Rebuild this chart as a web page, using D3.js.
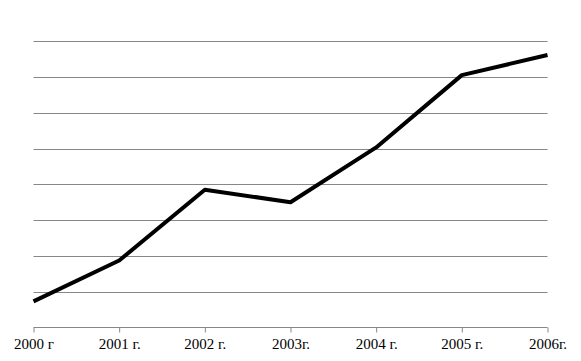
<!DOCTYPE html>
<html><head><meta charset="utf-8">
<script src="https://cdn.jsdelivr.net/npm/d3@7"></script>
<style>body{margin:0;background:#fff}</style>
</head><body>
<svg id="c" width="581" height="361"></svg>
<script>
const categories = ["2000 г", "2001 г.", "2002 г.", "2003г.", "2004 г.", "2005 г.", "2006г."];
const values = [0.73, 1.87, 3.85, 3.5, 5.03, 7.05, 7.61];
const yTicks = [1, 2, 3, 4, 5, 6, 7, 8];

(function () {
const svg = d3.select("#c");
const mLeft = 33.5, mRight = 547.5, mTop = 41.1, mBottom = 327.5;
const x = d3.scalePoint().domain(categories).range([mLeft, mRight]);
const y = d3.scaleLinear().domain([0, 8]).range([mBottom, mTop]);

svg.append("g").selectAll("line").data(yTicks).join("line")
  .attr("x1", mLeft).attr("x2", mRight)
  .attr("y1", d => Math.round(y(d)) + 0.5).attr("y2", d => Math.round(y(d)) + 0.5)
  .attr("stroke", "#878787").attr("stroke-width", 1);

const ax = svg.append("g").attr("transform", `translate(0,${mBottom})`)
  .call(d3.axisBottom(x).tickSize(5).tickPadding(6));
ax.select(".domain").attr("stroke", "#878787").attr("d", `M${mLeft},0H${mRight}`);
ax.selectAll(".tick line").attr("stroke", "#878787");
ax.selectAll(".tick text").attr("fill", "#000")
  .style("font-family", "'Liberation Serif', serif").style("font-size", "15px");

svg.append("path").datum(values)
  .attr("fill", "none").attr("stroke", "#000").attr("stroke-width", 4)
  .attr("stroke-linejoin", "round")
  .attr("d", d3.line().x((d, i) => x(categories[i])).y(d => y(d)));
})();
</script>
</body></html>
